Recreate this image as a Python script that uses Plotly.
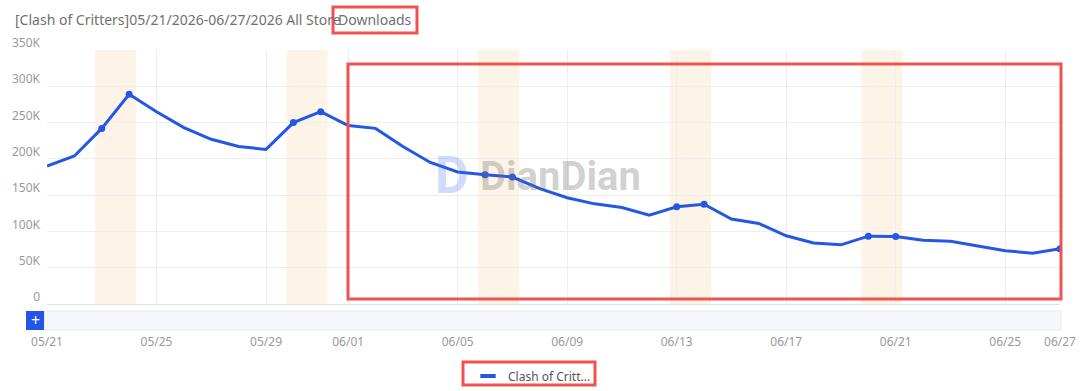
import pandas as pd
import plotly.graph_objects as go

# ---------------- data ----------------
dates = [d.strftime("%Y-%m-%d") for d in pd.date_range("2026-05-21", "2026-06-27", freq="D")]
downloads_k = [190, 204, 242, 289, 265, 243, 227, 217, 213, 250,
               265, 246, 242, 217, 195, 182, 178, 175, 159, 146.5,
               138, 133, 122.5, 134, 137.5, 117, 111, 94, 84, 81.5,
               93.5, 93, 88, 86.5, 80, 73.5, 70, 76]
marker_dates = ["2026-05-23", "2026-05-24", "2026-05-30", "2026-05-31",
                "2026-06-06", "2026-06-07", "2026-06-13", "2026-06-14",
                "2026-06-20", "2026-06-21", "2026-06-27"]
weekend_pairs = [("2026-05-23", "2026-05-24"), ("2026-05-30", "2026-05-31"),
                 ("2026-06-06", "2026-06-07"), ("2026-06-13", "2026-06-14"),
                 ("2026-06-20", "2026-06-21")]
x_tick_dates = ["2026-05-21", "2026-05-25", "2026-05-29", "2026-06-01", "2026-06-05",
                "2026-06-09", "2026-06-13", "2026-06-17", "2026-06-21", "2026-06-25",
                "2026-06-27"]
x_tick_labels = ["05/21", "05/25", "05/29", "06/01", "06/05", "06/09",
                 "06/13", "06/17", "06/21", "06/25", "06/27"]
y_tick_vals = [0, 50000, 100000, 150000, 200000, 250000, 300000, 350000]
y_tick_labels = ["0", "50K", "100K", "150K", "200K", "250K", "300K", "350K"]
series_name = "Clash of Critters"
legend_label = "Clash of Critt..."
title_text = "[Clash of Critters]05/21/2026-06/27/2026 All Store"
title_hl = "Downloads"

values = [v * 1000 for v in downloads_k]
val_by_date = dict(zip(dates, values))
marker_vals = [val_by_date[d] for d in marker_dates]

# ---------------- layout geometry ----------------
W, H = 1080, 391
ML, MR, MT, MB = 47, 20, 50, 87
PW = W - ML - MR
PH = H - MT - MB
FONT = "Noto Sans"
BLUE = "#2457E6"
RED = "#F05252"
GRAY = "#999999"


def px(x):
    return (x - ML) / PW


def py(y):
    return (H - MB - y) / PH


fig = go.Figure()

fig.add_trace(go.Scatter(
    x=dates, y=values, mode="lines", name=series_name,
    line=dict(color=BLUE, width=3), showlegend=False, hoverinfo="x+y"))
fig.add_trace(go.Scatter(
    x=marker_dates, y=marker_vals, mode="markers", name=series_name,
    marker=dict(color=BLUE, size=7), showlegend=False))
fig.add_trace(go.Scatter(
    x=[None], y=[None], mode="markers", name=legend_label,
    marker=dict(symbol="line-ew", size=11, color=BLUE,
                line=dict(color=BLUE, width=4)),
    showlegend=True))

shapes = []
# weekend bands
for a, b in weekend_pairs:
    x0 = (pd.Timestamp(a) - pd.Timedelta(hours=6)).strftime("%Y-%m-%d %H:%M")
    x1 = (pd.Timestamp(b) + pd.Timedelta(hours=6)).strftime("%Y-%m-%d %H:%M")
    shapes.append(dict(type="rect", xref="x", yref="paper", x0=x0, x1=x1, y0=0, y1=1,
                       fillcolor="#FDF4E7", line=dict(width=0), layer="below"))
# slider bar
shapes.append(dict(type="rect", xref="paper", yref="paper",
                   x0=px(44), x1=px(1061), y0=py(311), y1=py(330),
                   fillcolor="#F5F7FA", line=dict(color="#E6E8EC", width=1)))
shapes.append(dict(type="rect", xref="paper", yref="paper",
                   x0=px(26), x1=px(44), y0=py(311), y1=py(330),
                   fillcolor="#2356E8", line=dict(width=0)))
# red highlight boxes
for (x0, y0, x1, y1) in [(333, 7, 417, 33), (348, 64, 1061, 299), (463, 362, 595, 385)]:
    shapes.append(dict(type="rect", xref="paper", yref="paper",
                       x0=px(x0), x1=px(x1), y0=py(y0), y1=py(y1),
                       fillcolor="rgba(0,0,0,0)", line=dict(color=RED, width=3)))

annotations = [
    dict(text=title_text, xref="paper", yref="paper", x=px(13), y=py(20),
         xanchor="left", yanchor="middle", showarrow=False,
         font=dict(family=FONT, size=14, color="#707070")),
    dict(text=title_hl, xref="paper", yref="paper", x=px(336), y=py(20),
         xanchor="left", yanchor="middle", showarrow=False,
         font=dict(family=FONT, size=14, color="#707070")),
    dict(text="+", xref="paper", yref="paper", x=px(35), y=py(320),
         xanchor="center", yanchor="middle", showarrow=False,
         font=dict(family=FONT, size=16, color="white")),
    # watermark
    dict(text="<b>DianDian</b>", xref="paper", yref="paper", x=px(560), y=py(176),
         xanchor="center", yanchor="middle", showarrow=False,
         font=dict(family="Roboto", size=40, color="rgba(110,110,110,0.32)")),
    dict(text="<b>D</b>", xref="paper", yref="paper", x=px(452), y=py(175),
         xanchor="center", yanchor="middle", showarrow=False,
         font=dict(family="Roboto", size=52, color="rgba(70,110,235,0.25)")),
]

fig.update_layout(
    width=W, height=H,
    margin=dict(l=ML, r=MR, t=MT, b=MB, autoexpand=False),
    paper_bgcolor="white", plot_bgcolor="white",
    font=dict(family=FONT, size=12, color=GRAY),
    shapes=shapes, annotations=annotations,
    showlegend=True,
    legend=dict(orientation="h", x=px(468), y=py(376), xanchor="left", yanchor="middle",
                font=dict(family=FONT, size=12, color="#555555"),
                bgcolor="rgba(0,0,0,0)", itemwidth=30),
    xaxis=dict(type="date", range=["2026-05-21", "2026-06-27"],
               tickvals=x_tick_dates, ticktext=x_tick_labels,
               showgrid=True, gridcolor="#EEEEEE", gridwidth=1,
               showline=True, linecolor="#E3E3E3", linewidth=1,
               zeroline=False, ticks="", ticklabelstandoff=27,
               tickfont=dict(family=FONT, size=12, color=GRAY), fixedrange=True),
    yaxis=dict(range=[0, 350000], tickvals=y_tick_vals, ticktext=y_tick_labels,
               showgrid=True, gridcolor="#EEEEEE", gridwidth=1,
               showline=False, zeroline=False, ticks="",
               ticklabelshift=-7, ticklabelstandoff=6,
               tickfont=dict(family=FONT, size=12, color=GRAY), fixedrange=True),
    hovermode="x",
)

fig.write_html("out.html", include_plotlyjs=True, config={"displayModeBar": False})
